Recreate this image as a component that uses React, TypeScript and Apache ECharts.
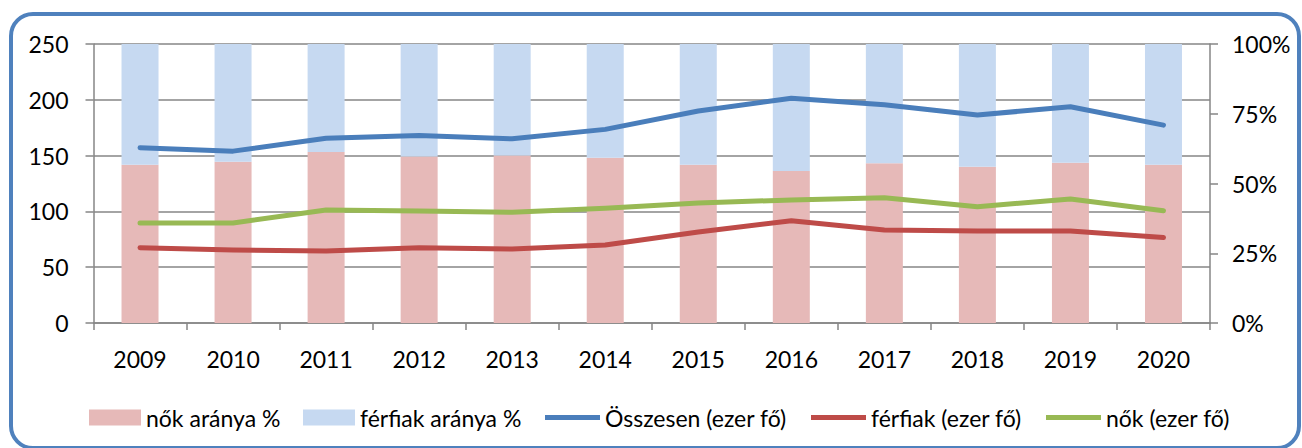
import React, { useEffect, useRef } from "react";
import * as echarts from "echarts";

const years = ["2009", "2010", "2011", "2012", "2013", "2014", "2015", "2016", "2017", "2018", "2019", "2020"];
const nokArany = [56.7, 57.8, 61.3, 59.7, 60.0, 59.2, 56.7, 54.5, 57.3, 56.0, 57.4, 56.7];
const ferfiakArany = nokArany.map((v) => +(100 - v).toFixed(1));
const osszesen = [157, 154, 165.5, 168, 165, 173.5, 190, 201.3, 195.5, 186.4, 193.8, 177.3];
const ferfiak = [67.5, 65.4, 64.5, 67.5, 66.3, 69.9, 81.5, 91.7, 83.3, 82.4, 82.4, 76.6];
const nok = [89.6, 89.6, 101.3, 100.4, 99.2, 102.8, 107.6, 110.2, 112.3, 104.2, 111.1, 100.6];
const leftTicks = [0, 50, 100, 150, 200, 250];
const seriesNames = ["nők aránya %", "férfiak aránya %", "Összesen (ezer fő)", "férfiak (ezer fő)", "nők (ezer fő)"];
const seriesColors = ["#E6B9B8", "#C6D9F1", "#4A7EBB", "#BE4B48", "#98B954"];

const FONT = "Lato";
const AXIS_GRAY = "#868686";
const LINE_ICON = "path://M0,0L0,0M0,5.5L55,5.5L55,10.5L0,10.5ZM55,16L55,16";

export default function App() {
  const ref = useRef<HTMLDivElement>(null);
  useEffect(() => {
    document.body.style.margin = "0";
    const chart = echarts.init(ref.current!, null, { renderer: "svg" });
    const textStyle = { fontFamily: FONT, fontSize: 23, color: "#000" };
    const legendLefts = [89, 303, 545, 811, 1046];
    const legends = seriesNames.map((name, i) => {
      const isLine = i >= 2;
      return {
        left: legendLefts[i],
        top: 406,
        padding: 0,
        itemWidth: isLine ? 55 : 52,
        itemHeight: 16,
        itemStyle: { borderWidth: 0 },
        textStyle: { ...textStyle },
        data: [
          {
            name,
            icon: isLine ? LINE_ICON : "rect",
            itemStyle: { color: seriesColors[i], borderWidth: 0 },
          },
        ],
      };
    });
    const lineSeries = (idx: number, data: number[]) => ({
      name: seriesNames[idx],
      type: "line",
      yAxisIndex: 0,
      symbol: "none",
      lineStyle: { color: seriesColors[idx], width: 5, cap: "round", join: "round" },
      itemStyle: { color: seriesColors[idx] },
      data,
    });
    chart.setOption({
      animation: false,
      textStyle: { fontFamily: FONT },
      graphic: [
        {
          type: "rect",
          shape: { x: 11, y: 14, width: 1288, height: 434, r: 22 },
          style: { fill: "none", stroke: "#4F81BD", lineWidth: 4 },
          z: 100,
        },
      ],
      grid: { left: 93.5, right: 92, top: 44, height: 279 },
      legend: legends,
      xAxis: {
        type: "category",
        data: years,
        axisLine: { lineStyle: { color: AXIS_GRAY, width: 1.5 } },
        axisTick: { show: true, length: 7, lineStyle: { color: AXIS_GRAY, width: 1.5 } },
        axisLabel: { ...textStyle, margin: 24 },
      },
      yAxis: [
        {
          type: "value",
          min: leftTicks[0],
          max: leftTicks[leftTicks.length - 1],
          interval: 50,
          axisLine: { show: true, lineStyle: { color: AXIS_GRAY, width: 1.5 } },
          axisTick: { show: true, length: 8, lineStyle: { color: AXIS_GRAY, width: 1.5 } },
          splitLine: { lineStyle: { color: AXIS_GRAY, width: 1.5 } },
          axisLabel: { ...textStyle, margin: 25 },
        },
        {
          type: "value",
          min: 0,
          max: 100,
          interval: 25,
          position: "right",
          axisLine: { show: true, lineStyle: { color: AXIS_GRAY, width: 1.5 } },
          axisTick: { show: true, length: 8, lineStyle: { color: AXIS_GRAY, width: 1.5 } },
          splitLine: { show: false },
          axisLabel: { ...textStyle, margin: 22, formatter: "{value}%" },
        },
      ],
      series: [
        {
          name: seriesNames[0],
          type: "bar",
          yAxisIndex: 1,
          stack: "arany",
          barWidth: 37,
          itemStyle: { color: seriesColors[0] },
          data: nokArany,
        },
        {
          name: seriesNames[1],
          type: "bar",
          yAxisIndex: 1,
          stack: "arany",
          barWidth: 37,
          itemStyle: { color: seriesColors[1] },
          data: ferfiakArany,
        },
        lineSeries(2, osszesen),
        lineSeries(3, ferfiak),
        lineSeries(4, nok),
      ],
    });
    return () => chart.dispose();
  }, []);
  return <div ref={ref} style={{ width: 1302, height: 448 }} />;
}
